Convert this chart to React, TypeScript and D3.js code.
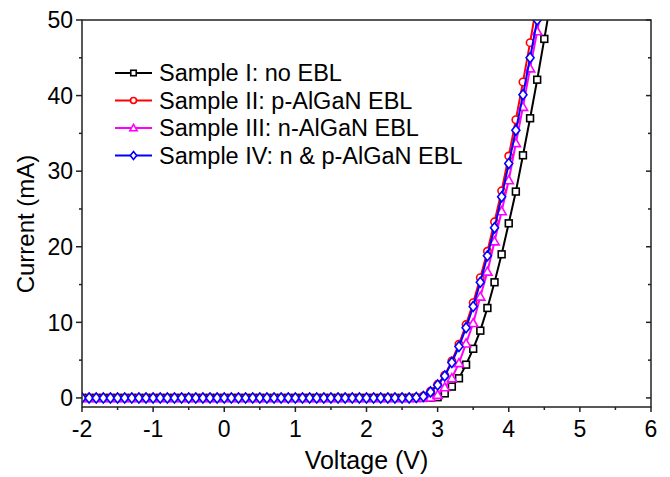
import * as d3 from "d3";

const voltage = [
  -2.0, -1.9, -1.8, -1.7, -1.6, -1.5, -1.4, -1.3, -1.2, -1.1,
  -1.0, -0.9, -0.8, -0.7, -0.6, -0.5, -0.4, -0.3, -0.2, -0.1,
  0.0, 0.1, 0.2, 0.3, 0.4, 0.5, 0.6, 0.7, 0.8, 0.9,
  1.0, 1.1, 1.2, 1.3, 1.4, 1.5, 1.6, 1.7, 1.8, 1.9,
  2.0, 2.1, 2.2, 2.3, 2.4, 2.5, 2.6, 2.7, 2.8, 2.9,
  3.0, 3.1, 3.2, 3.3, 3.4, 3.5, 3.6, 3.7, 3.8, 3.9,
  4.0, 4.1, 4.2, 4.3, 4.4, 4.5, 4.6,
];

// currents from -2.0 V to 2.6 V are flat at zero
const off = [
  0, 0, 0, 0, 0, 0, 0, 0, 0, 0,
  0, 0, 0, 0, 0, 0, 0, 0, 0, 0,
  0, 0, 0, 0, 0, 0, 0, 0, 0, 0,
  0, 0, 0, 0, 0, 0, 0, 0, 0, 0,
  0, 0, 0, 0, 0, 0, 0,
];

// from 2.7 V upwards
const sample1 = [0, 0, 0.02, 0.1, 0.6, 1.5, 2.6, 4.4, 6.5, 8.9, 11.9, 15.3, 19.0, 23.1, 27.3, 32.1, 37.0, 42.1, 47.5, 53.0];
const sample2 = [0.05, 0.25, 0.9, 1.8, 3.0, 4.9, 7.1, 9.7, 12.6, 15.9, 19.4, 23.3, 27.4, 32.0, 36.8, 41.8, 47.0, 52.5];
const sample3 = [0, 0.01, 0.05, 0.4, 1.4, 2.6, 4.6, 7.2, 9.9, 13.4, 16.7, 20.7, 24.7, 28.8, 33.7, 38.5, 43.6, 48.5, 53.5];
const sample4 = [0.05, 0.2, 0.8, 1.7, 2.9, 4.7, 6.8, 9.3, 12.1, 15.3, 18.8, 22.5, 26.6, 31.0, 35.4, 40.1, 45.0, 50.0];

const names = ["Sample I: no EBL", "Sample II: p-AlGaN EBL", "Sample III: n-AlGaN EBL", "Sample IV: n & p-AlGaN EBL"];
const colors = ["#000000", "#ff0000", "#ff00ff", "#0000ff"];
const shapes = ["square", "circle", "triangle", "diamond"];

const xTicks = [-2, -1, 0, 1, 2, 3, 4, 5, 6];
const yTicks = [0, 10, 20, 30, 40, 50];

const W = 670, H = 477;
const m = { left: 82, right: 19, top: 20, bottom: 70 };
const FONT = "'Liberation Sans', Arial, sans-serif";

function Marker({ shape, x, y, color, s = 1 }: { shape: string; x: number; y: number; color: string; s?: number }) {
  const common = { fill: "#fff", stroke: color, strokeWidth: 1.6 };
  if (shape === "square") {
    const a = 3.4 * s;
    return <rect x={x - a} y={y - a} width={2 * a} height={2 * a} {...common} />;
  }
  if (shape === "circle") return <circle cx={x} cy={y} r={3.7 * s} {...common} />;
  if (shape === "triangle") {
    const a = 4.6 * s;
    return <path d={`M${x},${y - a}L${x + a},${y + a * 0.75}L${x - a},${y + a * 0.75}Z`} {...common} />;
  }
  const a = 5 * s;
  return <path d={`M${x},${y - a}L${x + a * 0.8},${y}L${x},${y + a}L${x - a * 0.8},${y}Z`} {...common} />;
}

export default function App() {
  const x = d3.scaleLinear().domain([-2, 6]).range([m.left, W - m.right]);
  const y = d3.scaleLinear().domain([-1.2, 50]).range([H - m.bottom, m.top]);
  const x0 = m.left, x1 = W - m.right, y0 = H - m.bottom, y1 = m.top;

  const series = [sample1, sample2, sample3, sample4].map((s, i) => {
    const cur = [...off, ...s];
    return {
      name: names[i],
      color: colors[i],
      shape: shapes[i],
      pts: cur.map((c, j) => [voltage[j], c] as [number, number]),
    };
  });

  const line = d3.line<[number, number]>().x(d => x(d[0])).y(d => y(d[1]));
  const xMinor = d3.range(-2, 6.01, 0.5).filter(v => !xTicks.includes(v));
  const yMinor = d3.range(5, 50, 10);

  return (
    <svg width={W} height={H} style={{ position: "absolute", left: 0, top: 0, background: "#fff" }} fontFamily={FONT}>
      <defs>
        <clipPath id="plot">
          <rect x={x0} y={y1} width={x1 - x0} height={y0 - y1} />
        </clipPath>
      </defs>

      <g clipPath="url(#plot)">
        {series.map(s => (
          <g key={s.name}>
            <path d={line(s.pts) ?? ""} fill="none" stroke={s.color} strokeWidth={2} />
            {s.pts.map((p, j) => (
              <Marker key={j} shape={s.shape} x={x(p[0])} y={y(p[1])} color={s.color} />
            ))}
          </g>
        ))}
      </g>

      {/* frame */}
      <rect x={x0} y={y1} width={x1 - x0} height={y0 - y1} fill="none" stroke="#222" strokeWidth={1.5} />

      {/* bottom axis */}
      {xTicks.map(v => (
        <g key={v}>
          <line x1={x(v)} x2={x(v)} y1={y0} y2={y0 + 5} stroke="#222" strokeWidth={1.5} />
          <text x={x(v)} y={y0 + 30} textAnchor="middle" fontSize={23}>{v}</text>
        </g>
      ))}
      {xMinor.map(v => (
        <line key={v} x1={x(v)} x2={x(v)} y1={y0} y2={y0 + 3} stroke="#222" strokeWidth={1.5} />
      ))}

      {/* left axis, right axis inward ticks */}
      {yTicks.map(v => (
        <g key={v}>
          <line x1={x0 - 6} x2={x0} y1={y(v)} y2={y(v)} stroke="#222" strokeWidth={1.5} />
          <line x1={x1 - 5} x2={x1} y1={y(v)} y2={y(v)} stroke="#222" strokeWidth={1.5} />
          <text x={x0 - 9} y={y(v)} dy="0.36em" textAnchor="end" fontSize={23}>{v}</text>
        </g>
      ))}
      {yMinor.map(v => (
        <g key={v}>
          <line x1={x0 - 3} x2={x0} y1={y(v)} y2={y(v)} stroke="#222" strokeWidth={1.5} />
          <line x1={x1 - 3} x2={x1} y1={y(v)} y2={y(v)} stroke="#222" strokeWidth={1.5} />
        </g>
      ))}

      <text x={(x0 + x1) / 2} y={H - 8} textAnchor="middle" fontSize={25}>Voltage (V)</text>
      <text transform={`translate(34,224) rotate(-90)`} textAnchor="middle" fontSize={24}>Current (mA)</text>

      {/* legend */}
      {series.map((s, i) => {
        const ly = 73 + i * 27.5;
        return (
          <g key={s.name}>
            <line x1={115} x2={152} y1={ly} y2={ly} stroke={s.color} strokeWidth={1.8} />
            <Marker shape={s.shape} x={133.5} y={ly} color={s.color} s={0.8} />
            <text x={159} y={ly} dy="0.36em" fontSize={23.5}>{s.name}</text>
          </g>
        );
      })}
    </svg>
  );
}
